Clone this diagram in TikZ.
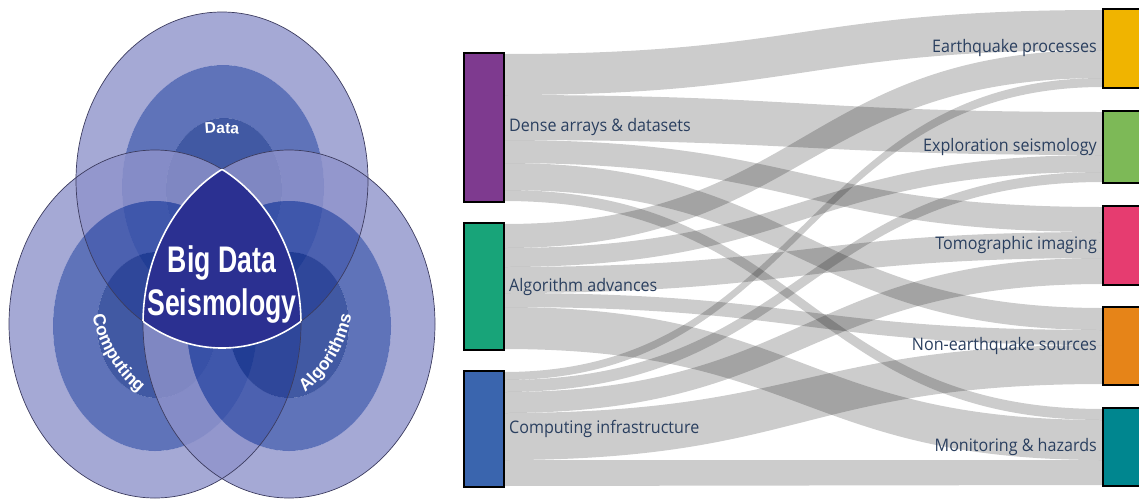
\documentclass[tikz,border=0pt]{standalone}
\usepackage{fontspec}
\usetikzlibrary{calc,decorations.text}
\setmainfont{Open Sans}
\newfontfamily\labfont[FakeStretch=0.93]{Open Sans}
\newfontfamily\bigfont[FakeStretch=0.72]{Liberation Sans}
\newfontfamily\smallfont{Liberation Sans}
\definecolor{cA}{RGB}{143,147,203}
\definecolor{cB}{RGB}{55,80,168}
\definecolor{cC}{RGB}{18,48,140}
\definecolor{cR}{RGB}{43,48,145}
\definecolor{cLine}{RGB}{60,60,95}
\definecolor{cP}{RGB}{126,58,143}
\definecolor{cG}{RGB}{24,164,121}
\definecolor{cBl}{RGB}{58,101,174}
\definecolor{cEQ}{RGB}{240,180,0}
\definecolor{cEX}{RGB}{125,185,87}
\definecolor{cTM}{RGB}{230,60,112}
\definecolor{cNE}{RGB}{230,132,24}
\definecolor{cMH}{RGB}{0,134,143}
\definecolor{cTxt}{RGB}{42,63,95}
\tikzset{
  flowband/.style={fill=black,fill opacity=0.2},
  box/.style={draw=black,line width=2.5pt,inner sep=0pt,outer sep=0pt,minimum width=40pt,anchor=north west},
  tbox/.style={box,minimum width=50pt},
  lab/.style={font=\labfont\fontsize{17.3}{18}\selectfont,text=cTxt,inner sep=0pt},
  ring/.style={fill opacity=0.8,even odd rule},
  outline/.style={draw=cLine,line width=0.7pt},
  vtext/.style={text=white,inner sep=0pt},
  topE/.style={x radius=146,y radius=168},
  sideE/.style={x radius=146,y radius=174}
}
\newcommand\flow[6]{%
  \path ([yshift=-#2pt]#1.north east) coordinate (fa)
        ([yshift=-#3pt]#1.north east) coordinate (fb)
        ([yshift=-#5pt]#4.north west) coordinate (fc)
        ([yshift=-#6pt]#4.north west) coordinate (fd)
        ($(fa)!0.5!(fc)$) coordinate (fm);
  \fill[flowband] (fa) .. controls (fm |- fa) and (fm |- fc) .. (fc) -- (fd)
     .. controls (fm |- fd) and (fm |- fb) .. (fb) -- cycle;}
\begin{document}
\begin{tikzpicture}[x=1pt,y=1pt]
\useasboundingbox (0,0) rectangle (1139,-498);
\clip (0,0) rectangle (1139,-498);
% ---------------- Venn ----------------
% top circle
\fill[cA,ring] (222,-180) ellipse[topE] (223,-187) ellipse[x radius=101,y radius=122];
\fill[cB,ring] (223,-187) ellipse[x radius=101,y radius=122] (224,-190) ellipse[x radius=58,y radius=72];
\fill[cC,fill opacity=0.8] (224,-190) ellipse[x radius=58,y radius=72];
% left circle
\fill[cA,ring] (155,-324) ellipse[sideE] (155,-326) ellipse[x radius=102,y radius=125];
\fill[cB,ring] (155,-326) ellipse[x radius=102,y radius=125] (157,-325) ellipse[x radius=60,y radius=73];
\fill[cC,fill opacity=0.8] (157,-325) ellipse[x radius=60,y radius=73];
% right circle
\fill[cA,ring] (289,-324) ellipse[sideE] (289,-326) ellipse[x radius=102,y radius=125];
\fill[cB,ring] (289,-326) ellipse[x radius=102,y radius=125] (289,-325) ellipse[x radius=60,y radius=73];
\fill[cC,fill opacity=0.8] (289,-325) ellipse[x radius=60,y radius=73];
% outlines
\draw[outline] (222,-180) ellipse[topE];
\draw[outline] (155,-324) ellipse[sideE];
\draw[outline] (289,-324) ellipse[sideE];
% central region
\begin{scope}
  \clip (222,-180) ellipse[topE];
  \clip (155,-324) ellipse[sideE];
  \fill[cR] (289,-324) ellipse[sideE];
\end{scope}
\begin{scope}
  \clip (155,-324) ellipse[sideE];
  \clip (289,-324) ellipse[sideE];
  \draw[white,line width=1.6pt] (222,-180) ellipse[topE];
\end{scope}
\begin{scope}
  \clip (222,-180) ellipse[topE];
  \clip (289,-324) ellipse[sideE];
  \draw[white,line width=1.6pt] (155,-324) ellipse[sideE];
\end{scope}
\begin{scope}
  \clip (222,-180) ellipse[topE];
  \clip (155,-324) ellipse[sideE];
  \draw[white,line width=1.6pt] (289,-324) ellipse[sideE];
\end{scope}
\node[vtext,anchor=base,font=\bigfont\bfseries\fontsize{37}{40}\selectfont] (bd1) at (222,-272) {Big Data};
\node[vtext,anchor=base,font=\bigfont\bfseries\fontsize{37}{40}\selectfont] (bd2) at (222,-315) {Seismology};
\path[decorate,decoration={text along path,text color=white,text align=center,
   text={|\smallfont\bfseries\fontsize{15.5}{16}\selectfont|Data}}]
   (222,-290) ++(112:157) arc[start angle=112,end angle=68,radius=157];
\path[decorate,decoration={text along path,text color=white,text align=center,
   text={|\smallfont\bfseries\fontsize{17.5}{18}\selectfont|Computing}}]
   (222,-290) ++(176:132) arc[start angle=176,end angle=246,radius=132];
\path[decorate,decoration={text along path,text color=white,text align=center,
   text={|\smallfont\bfseries\fontsize{17.5}{18}\selectfont|Algorithms}}]
   (222,-290) ++(-66:132) arc[start angle=-66,end angle=4,radius=132];
% ---------------- Sankey ----------------
\path (464,-53) coordinate (pP) (464,-223) coordinate (pG) (464,-371) coordinate (pB)
      (1103,-9) coordinate (pEQ) (1103,-111) coordinate (pEX) (1103,-206) coordinate (pTM)
      (1103,-307) coordinate (pNE) (1103,-408) coordinate (pMH);
\path node[box,fill=cP,minimum height=149pt] (P) at (pP) {}
      node[box,fill=cG,minimum height=127pt] (G) at (pG) {}
      node[box,fill=cBl,minimum height=116pt] (B) at (pB) {}
      node[tbox,fill=cEQ,minimum height=79pt] (EQ) at (pEQ) {}
      node[tbox,fill=cEX,minimum height=72pt] (EX) at (pEX) {}
      node[tbox,fill=cTM,minimum height=79pt] (TM) at (pTM) {}
      node[tbox,fill=cNE,minimum height=78pt] (NE) at (pNE) {}
      node[tbox,fill=cMH,minimum height=78pt] (MH) at (pMH) {};
\flow{P}{1}{42}{EQ}{1}{41}
\flow{P}{42}{87}{EX}{1}{44}
\flow{P}{87}{110}{TM}{1}{26}
\flow{P}{110}{137}{NE}{1}{23}
\flow{P}{137}{148}{MH}{1}{12}
\flow{G}{1}{25}{EQ}{41}{69}
\flow{G}{25}{44}{EX}{44}{61}
\flow{G}{44}{70}{TM}{26}{52}
\flow{G}{70}{84}{NE}{23}{38}
\flow{G}{84}{126}{MH}{12}{52}
\flow{B}{1}{9}{EQ}{69}{78}
\flow{B}{9}{21}{EX}{61}{71}
\flow{B}{21}{42}{TM}{52}{78}
\flow{B}{42}{89}{NE}{38}{77}
\flow{B}{89}{115}{MH}{52}{77}
% redraw boxes on top
\path node[box,fill=cP,minimum height=149pt] at (pP) {}
      node[box,fill=cG,minimum height=127pt] at (pG) {}
      node[box,fill=cBl,minimum height=116pt] at (pB) {}
      node[tbox,fill=cEQ,minimum height=79pt] at (pEQ) {}
      node[tbox,fill=cEX,minimum height=72pt] at (pEX) {}
      node[tbox,fill=cTM,minimum height=79pt] at (pTM) {}
      node[tbox,fill=cNE,minimum height=78pt] at (pNE) {}
      node[tbox,fill=cMH,minimum height=78pt] at (pMH) {};
\node[lab,anchor=west] (lP) at ([xshift=5pt]P.east) {Dense arrays \& datasets};
\node[lab,anchor=west] (lG) at ([xshift=5pt]G.east) {Algorithm advances};
\node[lab,anchor=west] (lB) at ([xshift=5pt]B.east) {Computing infrastructure};
\node[lab,anchor=east] (lEQ) at ([xshift=-6pt]EQ.west) {Earthquake processes};
\node[lab,anchor=east] (lEX) at ([xshift=-6pt]EX.west) {Exploration seismology};
\node[lab,anchor=east] (lTM) at ([xshift=-6pt]TM.west) {Tomographic imaging};
\node[lab,anchor=east] (lNE) at ([xshift=-6pt]NE.west) {Non-earthquake sources};
\node[lab,anchor=east] (lMH) at ([xshift=-6pt]MH.west) {Monitoring \& hazards};
\end{tikzpicture}
\end{document}
